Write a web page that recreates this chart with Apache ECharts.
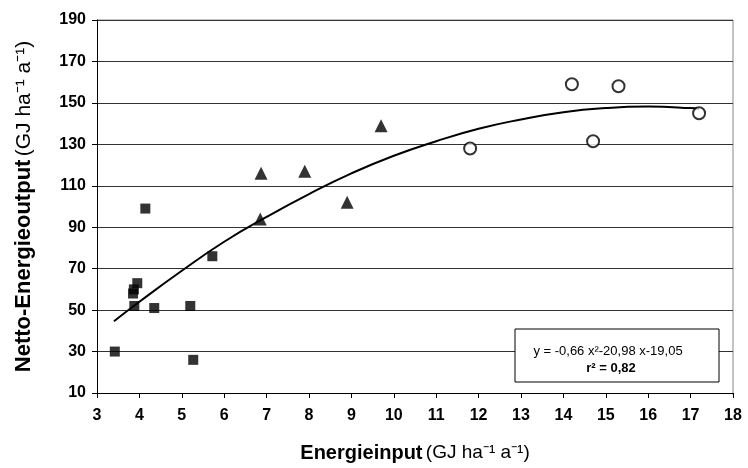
<!DOCTYPE html>
<html>
<head>
<meta charset="utf-8">
<script src="https://cdn.jsdelivr.net/npm/echarts@6/dist/echarts.min.js"></script>
<style>
  html, body { margin: 0; padding: 0; background: #fff; }
  #chart { width: 748px; height: 468px; }
</style>
</head>
<body>
<div id="chart"></div>
<script>
// data
var squares = [[3.42, 30], [3.85, 58], [3.87, 60], [3.95, 63], [3.88, 52], [4.14, 99],
    [4.35, 51], [5.2, 52], [5.27, 26], [5.72, 76]];
var triangles = [[6.85, 94], [6.87, 116], [7.9, 117], [8.9, 102], [9.7, 139]];
var circles = [[11.8, 128], [14.2, 159], [15.3, 158], [14.7, 131.5], [17.2, 145]];
var trendX = [3.4, 4, 5, 6, 7, 8, 9, 10, 11, 12, 13, 14, 15, 16, 17, 17.2];
var trendY = [44.6, 54, 69, 83, 95, 106, 116, 124.5, 131.5, 137.5, 142, 145.5, 147.5, 148.2, 147.5, 147];
var equation = 'y = -0,66 x²-20,98 x-19,05';
var rSquared = 'r² = 0,82';

var trend = trendX.map(function (x, i) { return [x, trendY[i]]; });
var font = 'Liberation Sans, Arial, sans-serif';

var myChart = echarts.init(document.getElementById('chart'));
myChart.setOption({
    animation: false,
    grid: { left: 97, right: 15, top: 20, bottom: 73 },
    xAxis: {
        type: 'value', min: 3, max: 18, interval: 1,
        axisLine: { show: true, lineStyle: { color: '#000', width: 1 } },
        axisTick: { show: true, length: 5, lineStyle: { color: '#000' } },
        splitLine: { show: false },
        axisLabel: { color: '#000', fontFamily: font, fontWeight: 'bold', fontSize: 16, margin: 15 },
        name: '{b|Energieinput} {n|(GJ ha⁻¹ a⁻¹)}',
        nameLocation: 'middle', nameGap: 50,
        nameTextStyle: {
            rich: {
                b: { fontFamily: font, fontWeight: 'bold', fontSize: 20, color: '#000' },
                n: { fontFamily: font, fontSize: 19, color: '#000' }
            }
        }
    },
    yAxis: {
        type: 'value', min: 10, max: 190, interval: 20,
        axisLine: { show: true, lineStyle: { color: '#000', width: 1 } },
        axisTick: { show: true, length: 5, lineStyle: { color: '#000' } },
        splitLine: { show: true, lineStyle: { color: '#333', width: 1 } },
        axisLabel: { color: '#000', fontFamily: font, fontWeight: 'bold', fontSize: 16, margin: 11 },
        name: '{b|Netto-Energieoutput} {n|(GJ ha⁻¹ a⁻¹)}',
        nameLocation: 'middle', nameGap: 62,
        nameTextStyle: {
            rich: {
                b: { fontFamily: font, fontWeight: 'bold', fontSize: 22, color: '#000' },
                n: { fontFamily: font, fontSize: 21, color: '#000' }
            }
        }
    },
    graphic: [
        { type: 'line', shape: { x1: 97, y1: 20, x2: 733, y2: 20 }, style: { stroke: '#888', lineWidth: 1 } },
        { type: 'line', shape: { x1: 733, y1: 20, x2: 733, y2: 395 }, style: { stroke: '#888', lineWidth: 1 } },
        { type: 'rect', shape: { x: 515, y: 329, width: 204, height: 53 },
          style: { fill: '#fff', stroke: '#000', lineWidth: 1 }, z: 100 },
        { type: 'text', x: 608, y: 351, z: 101,
          style: { text: equation, fill: '#000', font: '13px ' + font, textAlign: 'center', textVerticalAlign: 'middle' } },
        { type: 'text', x: 611, y: 368, z: 101,
          style: { text: rSquared, fill: '#000', font: 'bold 13px ' + font, textAlign: 'center', textVerticalAlign: 'middle' } }
    ],
    series: [
        {
            type: 'line', data: trend, smooth: true, showSymbol: false, symbol: 'none',
            lineStyle: { color: '#000', width: 2 }, z: 3
        },
        {
            type: 'scatter', data: squares, symbol: 'rect', symbolSize: 10,
            itemStyle: { color: '#000' }, z: 4
        },
        {
            type: 'scatter', data: triangles, symbol: 'triangle', symbolSize: 13,
            itemStyle: { color: '#000' }, z: 4
        },
        {
            type: 'scatter', data: circles, symbol: 'circle', symbolSize: 12,
            itemStyle: { color: '#fff', borderColor: '#000', borderWidth: 2 }, z: 4
        }
    ]
});

window.onresize = function () {
    myChart.resize();
};
</script>
</body>
</html>
